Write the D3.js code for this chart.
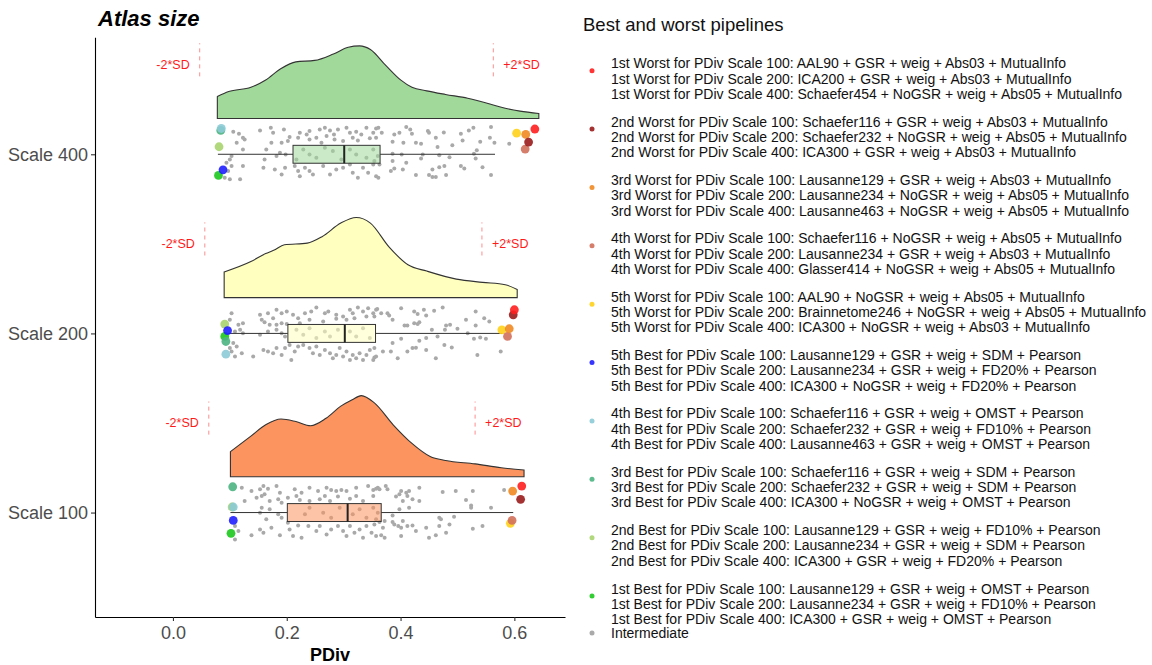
<!DOCTYPE html>
<html><head><meta charset="utf-8">
<script src="https://cdn.jsdelivr.net/npm/d3@7"></script>
<style>
html,body{margin:0;padding:0;background:#fff;}
svg{display:block;font-family:"Liberation Sans",Arial,Helvetica,sans-serif;}
</style></head>
<body><svg id="chart" width="1152" height="665"></svg>
<script>
// ---------------- DATA ----------------
const scaleNames = ["Scale 100", "Scale 200", "Scale 400"];
const xTicks = [0, 0.2, 0.4, 0.6];
const densityFill = ["#fc9460", "#ffffc0", "#a1d99b"];

// density curves [PDiv, density]
const density100 = [[0.101,1.40],[0.137,2.27],[0.163,2.90],[0.190,3.22],[0.216,3.08],[0.242,2.85],[0.269,3.26],[0.295,3.94],[0.315,4.30],[0.331,4.53],[0.354,4.12],[0.387,2.90],[0.420,1.86],[0.452,1.13],[0.479,0.91],[0.531,0.72],[0.577,0.50],[0.617,0.38]];
const density200 = [[0.090,1.43],[0.137,2.01],[0.163,2.46],[0.177,2.64],[0.196,2.95],[0.236,3.04],[0.262,3.40],[0.295,4.16],[0.322,4.47],[0.347,4.16],[0.380,2.82],[0.413,1.83],[0.446,1.48],[0.498,1.03],[0.544,0.85],[0.584,0.72],[0.605,0.45]];
const density400 = [[0.078,1.22],[0.098,1.50],[0.137,1.74],[0.163,2.15],[0.190,2.79],[0.216,3.16],[0.249,3.24],[0.282,3.60],[0.308,3.97],[0.328,4.05],[0.347,3.85],[0.374,2.96],[0.400,2.15],[0.420,1.74],[0.446,1.54],[0.479,1.34],[0.518,1.13],[0.557,0.81],[0.584,0.57],[0.610,0.41],[0.643,0.28]];

// box stats [whiskerLow, q1, median, q3, whiskerHigh]
const box100 = [0.101, 0.201, 0.307, 0.366, 0.598];
const box200 = [0.097, 0.202, 0.302, 0.356, 0.579];
const box400 = [0.079, 0.211, 0.301, 0.364, 0.566];

// mean - 2SD and mean + 2SD
const sdLow = [0.063, 0.056, 0.047];
const sdHigh = [0.531, 0.543, 0.563];

// intermediate pipelines [PDiv, vertical jitter]
const gray100 = [[0.121,0.139],[0.138,0.120],[0.153,0.130],[0.159,0.148],[0.167,0.133],[0.182,0.148],[0.188,0.111],[0.214,0.130],[0.226,0.111],[0.240,0.139],[0.255,0.120],[0.270,0.139],[0.278,0.126],[0.287,0.120],[0.296,0.126],[0.305,0.120],[0.322,0.139],[0.343,0.148],[0.352,0.126],[0.360,0.139],
[0.126,0.064],[0.147,0.083],[0.156,0.092],[0.161,0.102],[0.170,0.064],[0.185,0.074],[0.191,0.055],[0.202,0.083],[0.217,0.092],[0.223,0.070],[0.240,0.064],[0.258,0.074],[0.267,0.092],[0.276,0.064],[0.290,0.089],[0.311,0.077],[0.322,0.092],[0.334,0.064],[0.352,0.092],
[0.156,0.027],[0.153,-0.001],[0.170,0.018],[0.185,-0.010],[0.164,-0.038],[0.191,-0.029],[0.232,-0.010],[0.240,0.027],[0.264,-0.001],[0.278,-0.029],[0.293,0.027],[0.316,-0.010],[0.328,0.018],[0.340,-0.029],[0.352,0.027],[0.360,-0.001],
[0.109,-0.075],[0.115,-0.103],[0.138,-0.127],[0.153,-0.094],[0.159,-0.113],[0.173,-0.085],[0.188,-0.127],[0.202,-0.057],[0.205,-0.094],[0.211,-0.131],[0.220,-0.072],[0.226,-0.140],[0.238,-0.075],[0.252,-0.103],[0.258,-0.075],[0.270,-0.122],[0.278,-0.094],[0.290,-0.075],[0.299,-0.103],[0.305,-0.131],[0.311,-0.075],[0.319,-0.113],[0.328,-0.094],[0.334,-0.140],[0.340,-0.075],[0.349,-0.113],[0.357,-0.131],[0.109,-0.150],
[0.357,0.133],[0.363,0.130],[0.374,0.148],[0.377,0.130],[0.398,0.102],[0.401,0.120],[0.410,0.111],[0.412,0.092],[0.415,0.120],[0.433,0.139],[0.474,0.115],[0.497,0.120],[0.527,0.120],[0.582,0.126],
[0.392,0.089],[0.404,0.064],[0.421,0.074],[0.433,0.064],[0.515,0.070],[0.524,0.040],[0.524,0.027],[0.559,0.027],[0.415,0.027],[0.398,0.018],[0.468,-0.029],[0.471,-0.038],[0.494,-0.023],[0.386,-0.016],
[0.357,-0.038],[0.363,-0.053],[0.369,-0.085],[0.372,-0.047],[0.386,-0.053],[0.389,-0.066],[0.396,-0.075],[0.401,-0.085],[0.404,-0.047],[0.412,-0.075],[0.421,-0.072],[0.427,-0.103],[0.445,-0.085],[0.450,-0.140],[0.462,-0.127],[0.468,-0.075],[0.480,-0.113],[0.486,-0.066],[0.527,-0.090],[0.544,-0.075],[0.366,-0.127],[0.372,-0.140],[0.401,-0.131],[0.354,-0.066]];

const gray200 = [[0.103,0.113],[0.153,0.104],[0.167,0.113],[0.182,0.132],[0.191,0.113],[0.200,0.123],[0.211,0.104],[0.220,0.085],[0.232,0.113],[0.243,0.123],[0.252,0.145],[0.267,0.113],[0.273,0.123],[0.287,0.104],[0.299,0.095],[0.311,0.132],[0.316,0.113],[0.325,0.145],[0.334,0.123],[0.343,0.141],[0.352,0.113],[0.357,0.132],
[0.100,0.076],[0.115,0.048],[0.123,0.057],[0.156,0.076],[0.161,0.063],[0.170,0.048],[0.176,0.085],[0.182,0.048],[0.191,0.057],[0.200,0.052],[0.223,0.057],[0.240,0.076],[0.264,0.067],[0.287,0.082],[0.305,0.076],[0.319,0.085],[0.340,0.095],[0.354,0.095],
[0.109,0.011],[0.118,0.020],[0.123,0.001],[0.153,-0.008],[0.167,0.011],[0.182,0.020],[0.191,0.001],[0.197,-0.017],[0.217,0.020],[0.229,-0.008],[0.240,0.029],[0.252,-0.026],[0.267,0.011],[0.276,-0.017],[0.290,0.020],[0.311,0.011],[0.322,-0.017],[0.334,0.029],[0.346,-0.026],
[0.106,-0.054],[0.100,-0.082],[0.112,-0.073],[0.121,-0.110],[0.141,-0.129],[0.159,-0.092],[0.167,-0.101],[0.176,-0.110],[0.182,-0.082],[0.191,-0.120],[0.197,-0.082],[0.205,-0.064],[0.208,-0.148],[0.214,-0.101],[0.220,-0.073],[0.229,-0.064],[0.240,-0.082],[0.246,-0.110],[0.252,-0.073],[0.258,-0.120],[0.267,-0.092],[0.276,-0.110],[0.281,-0.138],[0.287,-0.120],[0.293,-0.082],[0.299,-0.129],[0.305,-0.101],[0.311,-0.148],[0.316,-0.120],[0.322,-0.138],[0.328,-0.110],[0.334,-0.148],[0.340,-0.120],[0.346,-0.092],[0.352,-0.148],[0.357,-0.129],[0.109,-0.129],[0.103,-0.101],
[0.359,0.137],[0.366,0.113],[0.377,0.113],[0.380,0.100],[0.386,0.076],[0.401,0.141],[0.424,0.123],[0.430,0.108],[0.441,0.132],[0.445,0.100],[0.459,0.126],[0.474,0.145],[0.515,0.076],[0.532,0.123],[0.547,0.085],[0.556,0.067],
[0.407,0.044],[0.412,0.044],[0.424,0.057],[0.430,0.052],[0.433,0.063],[0.455,0.020],[0.478,0.020],[0.480,0.044],[0.487,0.048],[0.500,0.026],[0.532,0.044],[0.518,0.001],[0.529,-0.030],[0.540,-0.023],[0.550,-0.030],
[0.401,-0.030],[0.386,-0.054],[0.433,-0.041],[0.445,-0.026],[0.465,-0.017],[0.477,-0.064],[0.490,-0.079],[0.369,-0.101],[0.383,-0.101],[0.395,-0.138],[0.412,-0.101],[0.421,-0.082],[0.427,-0.080],[0.445,-0.092],[0.462,-0.138],[0.535,-0.120],[0.576,-0.101],[0.354,-0.082],[0.354,-0.134]];

const gray400 = [[0.106,0.126],[0.116,0.115],[0.123,0.092],[0.153,0.133],[0.172,0.148],[0.176,0.120],[0.195,0.139],[0.205,0.096],[0.223,0.120],[0.235,0.111],[0.240,0.130],[0.258,0.139],[0.267,0.148],[0.276,0.133],[0.283,0.111],[0.290,0.139],[0.305,0.148],[0.311,0.120],[0.322,0.126],[0.331,0.111],[0.340,0.148],[0.352,0.120],[0.357,0.144],
[0.112,0.064],[0.126,0.083],[0.173,0.064],[0.191,0.064],[0.202,0.074],[0.220,0.092],[0.240,0.083],[0.252,0.092],[0.261,0.064],[0.270,0.102],[0.284,0.083],[0.299,0.074],[0.316,0.092],[0.325,0.077],[0.346,0.089],[0.357,0.092],
[0.164,0.027],[0.103,-0.010],[0.100,-0.029],[0.123,0.027],[0.161,-0.029],[0.182,-0.010],[0.188,0.008],[0.198,-0.001],[0.229,0.027],[0.240,-0.001],[0.267,0.036],[0.281,0.018],[0.296,-0.029],[0.311,0.027],[0.322,-0.001],[0.340,-0.019],[0.352,0.027],[0.360,-0.010],[0.217,-0.029],[0.252,-0.019],
[0.094,-0.047],[0.103,-0.066],[0.123,-0.066],[0.159,-0.075],[0.179,-0.085],[0.191,-0.113],[0.197,-0.075],[0.214,-0.066],[0.220,-0.094],[0.223,-0.122],[0.232,-0.075],[0.240,-0.094],[0.246,-0.113],[0.264,-0.066],[0.276,-0.113],[0.287,-0.085],[0.299,-0.075],[0.311,-0.057],[0.316,-0.103],[0.325,-0.131],[0.334,-0.075],[0.343,-0.103],[0.352,-0.057],[0.357,-0.122],[0.091,-0.131],[0.100,-0.140],[0.118,-0.140],[0.097,-0.094],
[0.361,0.148],[0.367,0.120],[0.389,0.111],[0.398,0.120],[0.410,0.152],[0.417,0.139],[0.420,0.115],[0.448,0.130],[0.450,0.120],[0.462,0.092],[0.476,0.122],[0.506,0.115],[0.520,0.133],[0.528,0.148],[0.559,0.152],[0.557,0.092],[0.540,0.070],[0.509,0.077],[0.491,0.051],[0.465,0.040],[0.436,0.059],[0.427,0.064],[0.405,0.064],[0.386,0.070],[0.565,0.064],[0.591,0.059],
[0.386,0.003],[0.402,-0.001],[0.439,-0.001],[0.436,-0.023],[0.468,-0.005],[0.486,-0.016],[0.529,0.003],[0.534,0.022],[0.532,-0.023],
[0.354,-0.038],[0.363,-0.057],[0.386,-0.038],[0.389,-0.079],[0.383,-0.094],[0.410,-0.047],[0.404,-0.085],[0.427,-0.116],[0.450,-0.116],[0.456,-0.127],[0.462,-0.127],[0.456,-0.085],[0.468,-0.072],[0.477,-0.066],[0.480,-0.116],[0.506,-0.066],[0.512,-0.079],[0.544,-0.072],[0.559,-0.116],[0.361,-0.131]];

// best / worst pipelines, legend order
const ranks = ["1st Worst","2nd Worst","3rd Worst","4th Worst","5th Worst","5th Best","4th Best","3rd Best","2nd Best","1st Best"];
const rankColors = ["#ff1f1f","#9b1c1c","#f08a22","#d2705c","#ffd21a","#1f1fff","#8ccbd6","#4cb482","#a9d46e","#1cc81c"];
const pipelines100 = ["AAL90 + GSR + weig + Abs03 + MutualInfo","Schaefer116 + GSR + weig + Abs03 + MutualInfo","Lausanne129 + GSR + weig + Abs03 + MutualInfo","Schaefer116 + NoGSR + weig + Abs05 + MutualInfo","AAL90 + NoGSR + weig + Abs05 + MutualInfo","Lausanne129 + GSR + weig + SDM + Pearson","Schaefer116 + GSR + weig + OMST + Pearson","Schaefer116 + GSR + weig + SDM + Pearson","Lausanne129 + GSR + weig + FD10% + Pearson","Lausanne129 + GSR + weig + OMST + Pearson"];
const pipelines200 = ["ICA200 + GSR + weig + Abs03 + MutualInfo","Schaefer232 + NoGSR + weig + Abs05 + MutualInfo","Lausanne234 + NoGSR + weig + Abs05 + MutualInfo","Lausanne234 + GSR + weig + Abs03 + MutualInfo","Brainnetome246 + NoGSR + weig + Abs05 + MutualInfo","Lausanne234 + GSR + weig + FD20% + Pearson","Schaefer232 + GSR + weig + FD10% + Pearson","Schaefer232 + GSR + weig + SDM + Pearson","Lausanne234 + GSR + weig + SDM + Pearson","Lausanne234 + GSR + weig + FD10% + Pearson"];
const pipelines400 = ["Schaefer454 + NoGSR + weig + Abs05 + MutualInfo","ICA300 + GSR + weig + Abs03 + MutualInfo","Lausanne463 + NoGSR + weig + Abs05 + MutualInfo","Glasser414 + NoGSR + weig + Abs05 + MutualInfo","ICA300 + NoGSR + weig + Abs03 + MutualInfo","ICA300 + NoGSR + weig + FD20% + Pearson","Lausanne463 + GSR + weig + OMST + Pearson","ICA300 + NoGSR + weig + OMST + Pearson","ICA300 + GSR + weig + FD20% + Pearson","ICA300 + GSR + weig + OMST + Pearson"];
// [PDiv, vertical jitter] per rank
const highlight100 = [[0.613,0.148],[0.611,0.074],[0.597,0.120],[0.596,-0.044],[0.593,-0.060],[0.106,-0.044],[0.106,0.031],[0.105,0.144],[0.104,0.031],[0.102,-0.116]];
const highlight200 = [[0.600,0.132],[0.598,0.104],[0.591,0.026],[0.588,-0.017],[0.578,0.020],[0.096,0.016],[0.093,-0.116],[0.093,-0.045],[0.091,0.052],[0.091,-0.017]];
const highlight400 = [[0.636,0.141],[0.625,0.068],[0.620,0.111],[0.619,0.029],[0.604,0.118],[0.088,-0.087],[0.085,0.144],[0.084,0.133],[0.081,0.042],[0.080,-0.118]];

// ---------------- DRAW ----------------
const svg = d3.select("#chart");
const x = d3.scaleLinear().domain([-0.137, 0.689]).range([95, 565]);
const y = d3.scaleLinear().domain([0.417, 3.653]).range([617, 37.3]);

const groups = [
  {pos:1, dens:density100, box:box100, gray:gray100, hi:highlight100},
  {pos:2, dens:density200, box:box200, gray:gray200, hi:highlight200},
  {pos:3, dens:density400, box:box400, gray:gray400, hi:highlight400}
];
const densOffset = 0.2, densScale = 0.1, boxHalf = 0.05;

groups.forEach((g, i) => {
  const layer = svg.append("g");
  // SD reference lines
  [sdLow[i], sdHigh[i]].forEach((v, j) => {
    layer.append("line")
      .attr("x1", x(v)).attr("x2", x(v))
      .attr("y1", y(g.pos + 0.435)).attr("y2", y(g.pos + 0.62))
      .attr("stroke", "#ff8080").attr("stroke-width", 0.9)
      .attr("stroke-dasharray", "4,4");
    layer.append("text")
      .attr("x", x(v) + (j === 0 ? -10 : 10))
      .attr("y", y(g.pos + 0.5)).attr("dy", "0.35em")
      .attr("text-anchor", j === 0 ? "end" : "start")
      .attr("font-size", "12.5px").attr("fill", "#ff1a1a")
      .text(j === 0 ? "-2*SD" : "+2*SD");
  });
  // density half-violin
  const area = d3.area()
    .x(d => x(d[0]))
    .y0(() => y(g.pos + densOffset))
    .y1(d => y(g.pos + densOffset + d[1] * densScale))
    .curve(d3.curveMonotoneX);
  layer.append("path").datum(g.dens)
    .attr("d", area)
    .attr("fill", densityFill[i])
    .attr("stroke", "#333").attr("stroke-width", 1.1);
  // gray points
  layer.selectAll("circle.gray").data(g.gray).join("circle")
    .attr("class", "gray")
    .attr("cx", d => x(d[0])).attr("cy", d => y(g.pos + d[1]))
    .attr("r", 2).attr("fill", "#a9a9a9");
  // box plot
  const b = g.box;
  layer.append("line")
    .attr("x1", x(b[0])).attr("x2", x(b[1]))
    .attr("y1", y(g.pos)).attr("y2", y(g.pos))
    .attr("stroke", "#333").attr("stroke-width", 1);
  layer.append("line")
    .attr("x1", x(b[3])).attr("x2", x(b[4]))
    .attr("y1", y(g.pos)).attr("y2", y(g.pos))
    .attr("stroke", "#333").attr("stroke-width", 1);
  layer.append("rect")
    .attr("x", x(b[1])).attr("width", x(b[3]) - x(b[1]))
    .attr("y", y(g.pos + boxHalf)).attr("height", y(g.pos - boxHalf) - y(g.pos + boxHalf))
    .attr("fill", densityFill[i]).attr("fill-opacity", 0.55)
    .attr("stroke", "#333").attr("stroke-width", 1);
  layer.append("line")
    .attr("x1", x(b[2])).attr("x2", x(b[2]))
    .attr("y1", y(g.pos + boxHalf)).attr("y2", y(g.pos - boxHalf))
    .attr("stroke", "#222").attr("stroke-width", 2);
  // highlighted pipelines (drawn from 1st Best up to 1st Worst)
  const hiData = g.hi.map((d, k) => ({v:d[0], j:d[1], c:rankColors[k]})).reverse();
  layer.selectAll("circle.hi").data(hiData).join("circle")
    .attr("class", "hi")
    .attr("cx", d => x(d.v)).attr("cy", d => y(g.pos + d.j))
    .attr("r", 4.4).attr("fill", d => d.c).attr("fill-opacity", 0.9);
});

// axes
const xAxis = svg.append("g").attr("transform", "translate(0,617)")
  .call(d3.axisBottom(x).tickValues(xTicks).tickFormat(d3.format(".1f")).tickSize(4).tickSizeOuter(0).tickPadding(5.7));
const yAxis = svg.append("g").attr("transform", "translate(95,0)")
  .call(d3.axisLeft(y).tickValues([1,2,3]).tickFormat(d => scaleNames[d-1]).tickSize(4).tickSizeOuter(0).tickPadding(3));
[xAxis, yAxis].forEach(a => {
  a.select(".domain").attr("stroke", "#000").attr("stroke-width", 1.1);
  a.selectAll(".tick line").attr("stroke", "#333").attr("stroke-width", 1.1);
  a.selectAll(".tick text").attr("font-size", "18px").attr("fill", "#4d4d4d")
    .attr("font-family", "Liberation Sans, Arial, sans-serif");
});

svg.append("text").attr("x", x.range()[0] + (x.range()[1]-x.range()[0])/2).attr("y", 661)
  .attr("text-anchor", "middle").attr("font-size", "18px").attr("font-weight", "bold")
  .text("PDiv");

svg.append("text").attr("x", 98).attr("y", 26)
  .attr("font-size", "22px").attr("font-weight", "bold").attr("font-style", "italic")
  .text("Atlas size");

// legend
const legend = svg.append("g");
legend.append("text").attr("x", 583).attr("y", 25).attr("dy", "0.35em")
  .attr("font-size", "18.5px").attr("fill", "#111").text("Best and worst pipelines");
const pipelineSets = [pipelines100, pipelines200, pipelines400];
const scaleNums = ["100", "200", "400"];
ranks.forEach((r, k) => {
  const top = 63.3 + 58.37 * k;
  legend.append("circle").attr("cx", 592).attr("cy", top + 7.4).attr("r", 2.5)
    .attr("fill", rankColors[k]).attr("fill-opacity", 0.9);
  pipelineSets.forEach((set, s) => {
    legend.append("text").attr("x", 611).attr("y", top + 15.3 * s).attr("dy", "0.35em")
      .attr("font-size", "14px").attr("fill", "#111")
      .text(`${r} for PDiv Scale ${scaleNums[s]}: ${set[k]}`);
  });
});
legend.append("circle").attr("cx", 592).attr("cy", 633).attr("r", 2.5).attr("fill", "#aaaaaa");
legend.append("text").attr("x", 611).attr("y", 633).attr("dy", "0.35em")
  .attr("font-size", "14px").attr("fill", "#111").text("Intermediate");
</script>
</body></html>
